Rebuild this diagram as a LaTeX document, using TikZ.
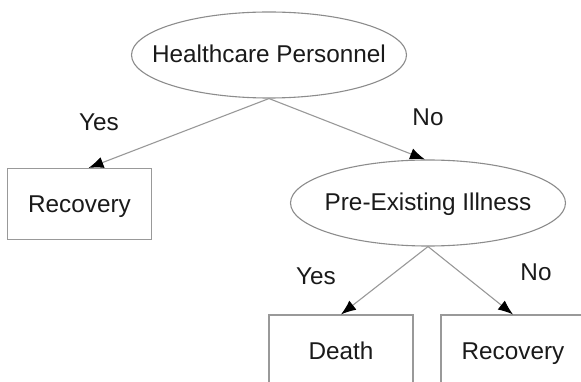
\documentclass[tikz,border=0pt]{standalone}
\usepackage{fontspec}
\setmainfont{Liberation Sans}
\usetikzlibrary{%
    arrows.meta,
    positioning,
    shapes.geometric
}
\definecolor{linegray}{HTML}{999999}
\definecolor{rimgray}{HTML}{8C8C8C}
\definecolor{inkgray}{HTML}{1A1A1A}
\tikzset{headarrow/.style = {draw=linegray, line width=1.1pt,
        -{Latex[length=15pt, width=11.5pt, color=black]}}}
\tikzset{treefont/.style = {font=\fontsize{24.3}{29}\selectfont, text=inkgray}}
\tikzset{question/.style = {treefont, ellipse, draw=rimgray, line width=1.1pt,
        text height=20pt, text depth=4pt,
        inner xsep=-20pt, minimum width=275pt, minimum height=86pt}}
\tikzset{outcome/.style = {treefont, rectangle, draw=linegray, line width=1.1pt,
        text height=20pt, text depth=3pt,
        minimum width=144pt, minimum height=71pt}}
\tikzset{answer/.style = {treefont, inner sep=0pt}}

\begin{document}
\begin{tikzpicture}[x=1pt, y=-1pt]
    \clip (0,0) rectangle (581,382);
    \fill[white] (0,0) rectangle (581,382);

    \node[question] (HP) at (269,55) {Healthcare Personnel};
    \node[outcome] (RecA) at (79.5,204) {Recovery};
    \node[question] (PI) at (428,203) {Pre-Existing Illness};
    \node[outcome] (Death) at (341,350.5) {Death};
    \node[outcome] (RecB) at (513,350.5) {Recovery};

    \node[answer] (YesA) at (99,122) {Yes};
    \node[answer] (NoA) at (428,117) {No};
    \node[answer] (YesB) at (316,276) {Yes};
    \node[answer] (NoB) at (536,272) {No};

    \draw[headarrow] (HP.south) -- ([xshift=9pt]RecA.north);
    \draw[headarrow] (HP.south) -- ([xshift=-3pt]PI.north);
    \draw[headarrow] (PI.south) -- (Death.north);
    \draw[headarrow] (PI.south) -- (RecB.north);
\end{tikzpicture}
\end{document}
